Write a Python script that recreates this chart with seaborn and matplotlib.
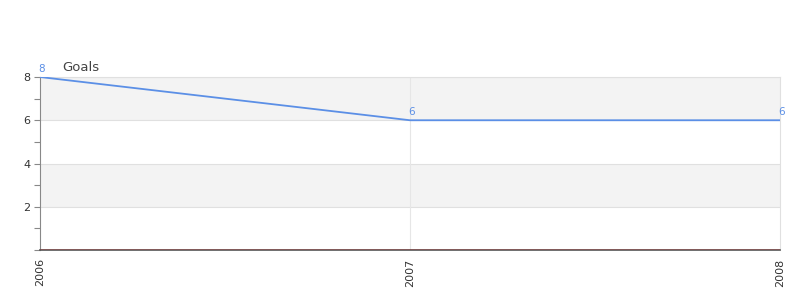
import matplotlib
matplotlib.use("Agg")
import matplotlib.pyplot as plt
import seaborn as sns
import pandas as pd
from matplotlib.ticker import MultipleLocator

years = [2006, 2007, 2008]
goals = [8, 6, 6]
baseline = [0, 0, 0]
series_name = "Goals"
y_ticks = [2, 4, 6, 8]

sns.set_theme(style="white")
plt.rcParams['font.family'] = ['DejaVu Sans']

df = pd.DataFrame({"year": years, "goals": goals, "base": baseline})

fig = plt.figure(figsize=(8, 3), dpi=100)
ax = fig.add_axes([0.05, 0.1667, 0.925, 0.5766])

# alternating bands
for lo, hi, c in [(0, 2, "white"), (2, 4, "#f3f3f3"), (4, 6, "white"), (6, 8, "#f3f3f3")]:
    ax.axhspan(lo, hi, color=c, zorder=0, lw=0)
for yv in y_ticks:
    ax.axhline(yv, color="#e0e0e0", lw=0.8, zorder=1)
ax.axvline(2007, color="#e6e6e6", lw=0.8, zorder=1)

blue = "#5b8fe6"
sns.lineplot(data=df, x="year", y="goals", color=blue, lw=1.3, ax=ax, zorder=3)
sns.lineplot(data=df, x="year", y="base", color="#cc0000", lw=1.0, ax=ax, zorder=3)

for x, y in zip(years, goals):
    ax.annotate(str(y), (x, y), xytext=(1, 2), textcoords="offset points",
                ha="center", va="bottom", color=blue, fontsize=7.5, zorder=4)

ax.set_xlim(2006, 2008)
ax.set_ylim(0, 8)
ax.set_xticks(years)
ax.set_xticklabels([str(y) for y in years], rotation=90, fontsize=8, color="#333333")
ax.set_yticks(y_ticks)
ax.set_yticklabels([str(v) for v in y_ticks], fontsize=8, color="#333333")
ax.yaxis.set_minor_locator(MultipleLocator(1))
ax.tick_params(axis="y", which="both", left=True, length=4, width=0.8, color="#888888", pad=3)
ax.tick_params(axis="x", bottom=False, pad=0)
ax.set_xlabel("")
ax.set_ylabel("")

for s in ["top", "right"]:
    ax.spines[s].set_color("#e0e0e0")
    ax.spines[s].set_linewidth(0.8)
ax.spines["left"].set_color("#888888")
ax.spines["left"].set_linewidth(0.8)
ax.spines["bottom"].set_color("#555555")
ax.spines["bottom"].set_linewidth(1.2)

fig.text(62 / 800, 1 - 67 / 300, series_name, fontsize=9.5, color="#444444", va="center", ha="left")

fig.savefig("out.png", dpi=100)
